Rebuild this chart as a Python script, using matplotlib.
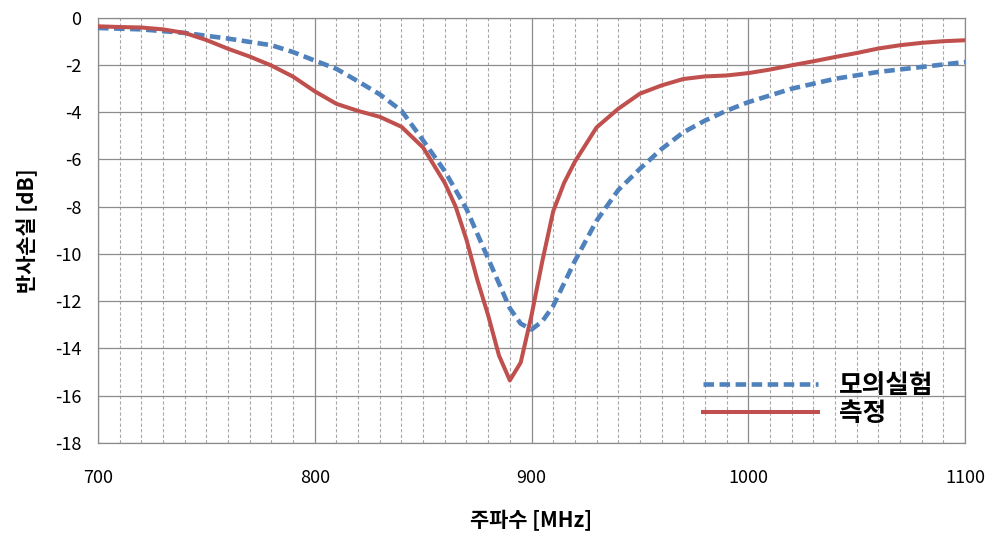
import matplotlib
matplotlib.use('Agg')
import matplotlib.pyplot as plt
from matplotlib.ticker import MultipleLocator

plt.rcParams['font.family'] = ['Noto Sans CJK KR', 'DejaVu Sans']
plt.rcParams['axes.unicode_minus'] = False

# 모의실험 (simulation)
sim_f = [700, 720, 740, 760, 780, 790, 800, 810, 820, 830, 840, 850, 860, 870, 880,
         890, 895, 900, 905, 910, 920, 930, 940, 950, 960, 970, 980, 990, 1000,
         1020, 1040, 1060, 1080, 1100]
sim_db = [-0.44, -0.5, -0.65, -0.89, -1.17, -1.46, -1.82, -2.17, -2.7, -3.25, -3.94,
          -5.2, -6.5, -8.1, -10.2, -12.3, -12.95, -13.2, -12.85, -12.2, -10.3, -8.6,
          -7.3, -6.4, -5.56, -4.86, -4.36, -3.94, -3.58, -3.01, -2.59, -2.3, -2.09, -1.88]

# 측정 (measured)
meas_f = [700, 710, 720, 730, 740, 750, 760, 770, 780, 790, 800, 810, 820, 830, 840,
          850, 860, 865, 870, 875, 880, 885, 890, 895, 900, 905, 910, 915, 920, 930,
          940, 950, 960, 970, 980, 990, 1000, 1010, 1020, 1030, 1040, 1050, 1060,
          1070, 1080, 1090, 1100]
meas_db = [-0.37, -0.4, -0.42, -0.5, -0.65, -0.95, -1.32, -1.65, -2.03, -2.5, -3.12,
           -3.65, -3.95, -4.2, -4.62, -5.5, -7.0, -8.0, -9.4, -11.1, -12.6, -14.3,
           -15.35, -14.6, -12.6, -10.3, -8.2, -7.0, -6.1, -4.65, -3.86, -3.22, -2.87,
           -2.6, -2.49, -2.45, -2.35, -2.2, -2.02, -1.85, -1.67, -1.5, -1.31, -1.17,
           -1.07, -1.0, -0.96]

fig = plt.figure(figsize=(9.92, 5.44), dpi=100)
ax = fig.add_axes([0.0988, 0.1857, 0.874, 0.782])

ax.plot(sim_f, sim_db, color='#4F81BD', lw=3.3, ls=(0, (2.3, 1.2)),
        dash_capstyle='butt', label='모의실험', zorder=3)
ax.plot(meas_f, meas_db, color='#C0504D', lw=2.9, label='측정', zorder=4)

ax.set_xlim(700, 1100)
ax.set_ylim(-18, 0)
ax.xaxis.set_major_locator(MultipleLocator(100))
ax.xaxis.set_minor_locator(MultipleLocator(10))
ax.yaxis.set_major_locator(MultipleLocator(2))

ax.grid(which='major', axis='both', color='#8c8c8c', lw=0.9, zorder=1)
ax.grid(which='minor', axis='x', color='#a8a8a8', lw=0.8, ls=(0, (3, 2)), zorder=1)
ax.set_axisbelow(True)

for s in ax.spines.values():
    s.set_color('#8c8c8c')
    s.set_linewidth(0.9)

ax.tick_params(axis='x', which='major', length=0, pad=19, labelsize=13)
ax.tick_params(axis='x', which='minor', length=0)
ax.tick_params(axis='y', length=0, pad=12, labelsize=13)

ax.set_xlabel('주파수 [MHz]', fontsize=15, fontweight='bold', labelpad=16)
ax.set_ylabel('반사손실 [dB]', fontsize=15, fontweight='bold', labelpad=12)

leg = ax.legend(loc='lower right', bbox_to_anchor=(0.99, -0.017), frameon=False,
                handlelength=4.5, handletextpad=0.8, labelspacing=0.05,
                prop={'size': 18.5, 'weight': 'bold'})

fig.savefig('out.png', dpi=100)
